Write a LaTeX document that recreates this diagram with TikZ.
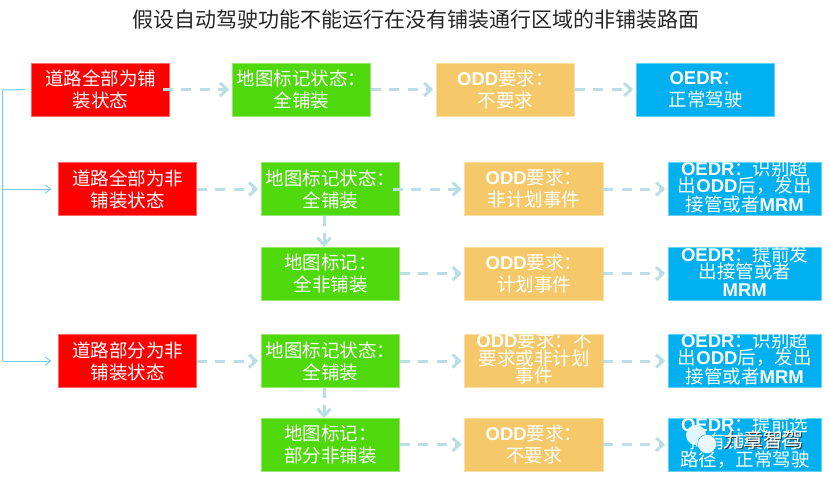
\documentclass[tikz,border=0pt]{standalone}
\usepackage{fontspec}
\setmainfont{Noto Sans CJK SC}
\newfontfamily\latfont{Liberation Sans}
\usetikzlibrary{arrows.meta}
\usetikzlibrary{calc}
\usetikzlibrary{positioning}
\newcommand{\lat}[1]{{\latfont\bfseries #1}}
\tikzset{
  box/.style={rectangle,minimum height=53pt,minimum width=138.5pt,inner sep=0pt,outer sep=0pt,line width=0.7pt},
  redbox/.style={box,fill=boxred,draw=boxred!60!white},
  greenbox/.style={box,fill=boxgreen,draw=boxgreen!60!white},
  orangebox/.style={box,fill=boxorange,draw=boxorange!60!white},
  bluebox/.style={box,fill=boxblue,draw=boxblue!60!white,minimum width=153pt},
  txt/.style={text=white,align=center,inner sep=0pt,font=\fontsize{18.5}{22}\selectfont},
  txtthree/.style={text=white,align=center,inner sep=0pt,yshift=2.5pt,font=\fontsize{18.5}{17.5}\selectfont},
  flow/.style={draw=flowteal,line width=3pt,dash pattern=on 10pt off 8.5pt,-{Straight Barb[length=7pt,width=13pt]},shorten >=3pt},
  flowin/.style={flow,shorten <=-7pt},
  down/.style={draw=flowteal,line width=3pt,dash pattern=on 10pt off 7pt,-{Straight Barb[length=7pt,width=13pt]}},
  branch/.style={draw=branchblue,line width=1pt},
}
\definecolor{boxred}{HTML}{FF0000}
\definecolor{boxgreen}{HTML}{4FD80C}
\definecolor{boxorange}{HTML}{F5C96A}
\definecolor{boxblue}{HTML}{00B0F0}
\definecolor{flowteal}{HTML}{B9DEE3}
\definecolor{branchblue}{HTML}{6FCBF5}
\begin{document}
\begin{tikzpicture}[x=1pt,y=-1pt]
\useasboundingbox (0,0) rectangle (830,477);

\node[font=\fontsize{21}{24}\selectfont,text=black!85] (title) at (416,20) {假设自动驾驶功能不能运行在没有铺装通行区域的非铺装路面};

% first row
\node[redbox,label={[txt]center:{道路全部为铺\\装状态}}] (r1) at (100.5,89.5) {};
\node[greenbox,right=62.5pt of r1,label={[txt]center:{地图标记状态：\\全铺装}}] (g1) {};
\node[orangebox,right=65.5pt of g1,label={[txt]center:{\lat{ODD}要求：\\不要求}}] (o1) {};
\node[bluebox,right=61.5pt of o1,minimum width=138.5pt,label={[txt]center:{\lat{OEDR}：\\正常驾驶}}] (b1) {};

% second group
\node[redbox,label={[txt]center:{道路全部为非\\铺装状态}}] (r2) at (127.5,189) {};
\node[greenbox,right=64.5pt of r2,label={[txt]center:{地图标记状态：\\全铺装}}] (g2) {};
\node[orangebox,right=65pt of g2,label={[txt]center:{\lat{ODD}要求：\\非计划事件}}] (o2) {};
\node[bluebox,right=65pt of o2,label={[txtthree]center:{\lat{OEDR}：识别超\\出\lat{ODD}后，发出\\接管或者\lat{MRM}}}] (b2) {};
\node[greenbox,below=31.5pt of g2,label={[txt]center:{地图标记：\\全非铺装}}] (g3) {};
\node[orangebox,right=65pt of g3,label={[txt]center:{\lat{ODD}要求：\\计划事件}}] (o3) {};
\node[bluebox,right=65pt of o3,label={[txtthree]center:{\lat{OEDR}：提前发\\出接管或者\\\lat{MRM}}}] (b3) {};

% third group
\node[redbox,label={[txt]center:{道路部分为非\\铺装状态}}] (r3) at (127.5,361) {};
\node[greenbox,right=64.5pt of r3,label={[txt]center:{地图标记状态：\\全铺装}}] (g4) {};
\node[orangebox,right=65pt of g4,label={[txtthree]center:{\lat{ODD}要求：不\\要求或非计划\\事件}}] (o4) {};
\node[bluebox,right=65pt of o4,label={[txtthree]center:{\lat{OEDR}：识别超\\出\lat{ODD}后，发出\\接管或者\lat{MRM}}}] (b4) {};
\node[greenbox,below=30.5pt of g4,label={[txt]center:{地图标记：\\部分非铺装}}] (g5) {};
\node[orangebox,right=65pt of g5,label={[txt]center:{\lat{ODD}要求：\\不要求}}] (o5) {};
\node[bluebox,right=65pt of o5,label={[txtthree]center:{\lat{OEDR}：提前选\\择有铺装通行\\路径，正常驾驶}}] (b5) {};

\foreach \a/\b in {g1/o1,o1/b1,r2/g2,o2/b2,g3/o3,o3/b3,r3/g4,g4/o4,o4/b4,g5/o5,o5/b5}
  \draw[flow] (\a) -- (\b);
\draw[flowin] (r1) -- (g1);
\draw[flowin] (g2) -- (o2);

\coordinate (downa) at ($(g2.south)+(-6.5,0)$);
\coordinate (downb) at ($(g4.south)+(-6.5,0)$);
\draw[down] (downa) -- (downa |- g3.north);
\draw[down] (downb) -- (downb |- g5.north);

% left bracket
\coordinate (spine) at (2.5,90);
\draw[branch,shorten >=6pt] (spine |- r3.west) -- (spine) -- (r1.west);
\draw[branch,-{Straight Barb[length=5pt,width=8pt]},shorten >=7pt] (spine |- r2.west) -- (r2.west);
\draw[branch,-{Straight Barb[length=5pt,width=8pt]},shorten >=7pt] (spine |- r3.west) -- (r3.west);

% watermark
\node[circle,fill=white!88!boxblue,minimum size=20pt,inner sep=0pt] (bubblea) at (696,435) {};
\node[circle,fill=white!92!boxblue,draw=boxblue,minimum size=19pt,inner sep=0pt] (bubbleb) at (707,444) {};
\node[font=\fontsize{20}{22}\selectfont,text=black!80] (markshadow) at (764,441) {九章智驾};
\node[font=\fontsize{20}{22}\selectfont,text=white] (mark) at (763,440) {九章智驾};
\end{tikzpicture}
\end{document}
